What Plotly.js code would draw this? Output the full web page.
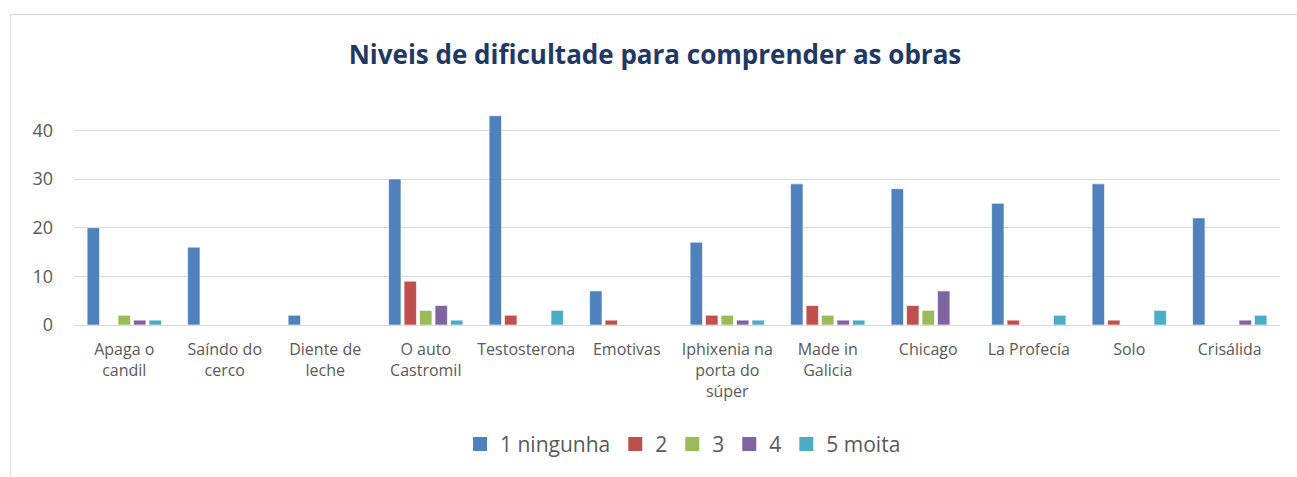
<!DOCTYPE html>
<html><head><meta charset="utf-8">
<script src="https://cdn.plot.ly/plotly-3.0.1.min.js"></script>
<style>html,body{margin:0;padding:0;background:#fff;}
#frame{position:absolute;left:10px;top:14px;width:1300px;height:480px;border-left:1px solid #d9d9d9;border-top:1px solid #d9d9d9;}
#chart{position:absolute;left:0;top:0;width:1297px;height:477px;}</style>
</head><body><div id="frame"></div><div id="chart"></div>
<script>
const categories = ["Apaga o<br>candil","Saíndo do<br>cerco","Diente de<br>leche","O auto<br>Castromil","Testosterona","Emotivas","Iphixenia na<br>porta do<br>súper","Made in<br>Galicia","Chicago","La Profecía","Solo","Crisálida"];
const seriesNames = ["1 ningunha","2","3","4","5 moita"];
const s1 = [20,16,2,30,43,7,17,29,28,25,29,22];
const s2 = [0,0,0,9,2,1,2,4,4,1,1,0];
const s3 = [2,0,0,3,0,0,2,2,3,0,0,0];
const s4 = [1,0,0,4,0,0,1,1,7,0,0,1];
const s5 = [1,0,0,1,3,0,1,1,0,2,3,2];
const colors = ["#4F81BD","#C0504D","#9BBB59","#8064A2","#4BACC6"];
const all = [s1,s2,s3,s4,s5];
const traces = all.map((v,i)=>({type:'bar',name:seriesNames[i],x:categories,y:v,showlegend:false,marker:{color:colors[i],line:{color:'rgba(255,255,255,0.6)',width:1}}}));
// legend-only entries with square symbols
seriesNames.forEach((n,i)=>traces.push({type:'scatter',mode:'markers',name:n,x:[null],y:[null],marker:{symbol:'square',size:14,color:colors[i]},showlegend:true}));
const layout = {
  width:1297,height:477,
  paper_bgcolor:'rgba(0,0,0,0)',plot_bgcolor:'rgba(0,0,0,0)',
  margin:{l:74,r:17,t:106,b:150},
  font:{family:'"Open Sans", "Liberation Sans", sans-serif',color:'#595959'},
  title:{text:'<b>Niveis de dificultade para comprender as obras</b>',x:0.505,xanchor:'center',y:0.885,yanchor:'middle',font:{size:26,color:'#1F3864',family:'"Open Sans", sans-serif'}},
  barmode:'group',bargap:0.23,bargroupgap:0.2,
  xaxis:{tickfont:{size:16,color:'#595959'},showline:true,linecolor:'#d9d9d9',linewidth:1,ticks:'',ticklabelstandoff:10,fixedrange:true},
  yaxis:{range:[0,45],tickvals:[0,10,20,30,40],tickfont:{size:18,color:'#595959'},gridcolor:'#d9d9d9',zeroline:false,ticks:'',ticklen:0,ticklabelstandoff:20},
  showlegend:true,
  legend:{orientation:'h',x:0.505,xanchor:'center',y:-0.545,yanchor:'middle',font:{size:21,color:'#595959'},itemwidth:20,traceorder:'normal'}
};
Plotly.newPlot('chart',traces,layout,{displayModeBar:false,staticPlot:true});
</script></body></html>
